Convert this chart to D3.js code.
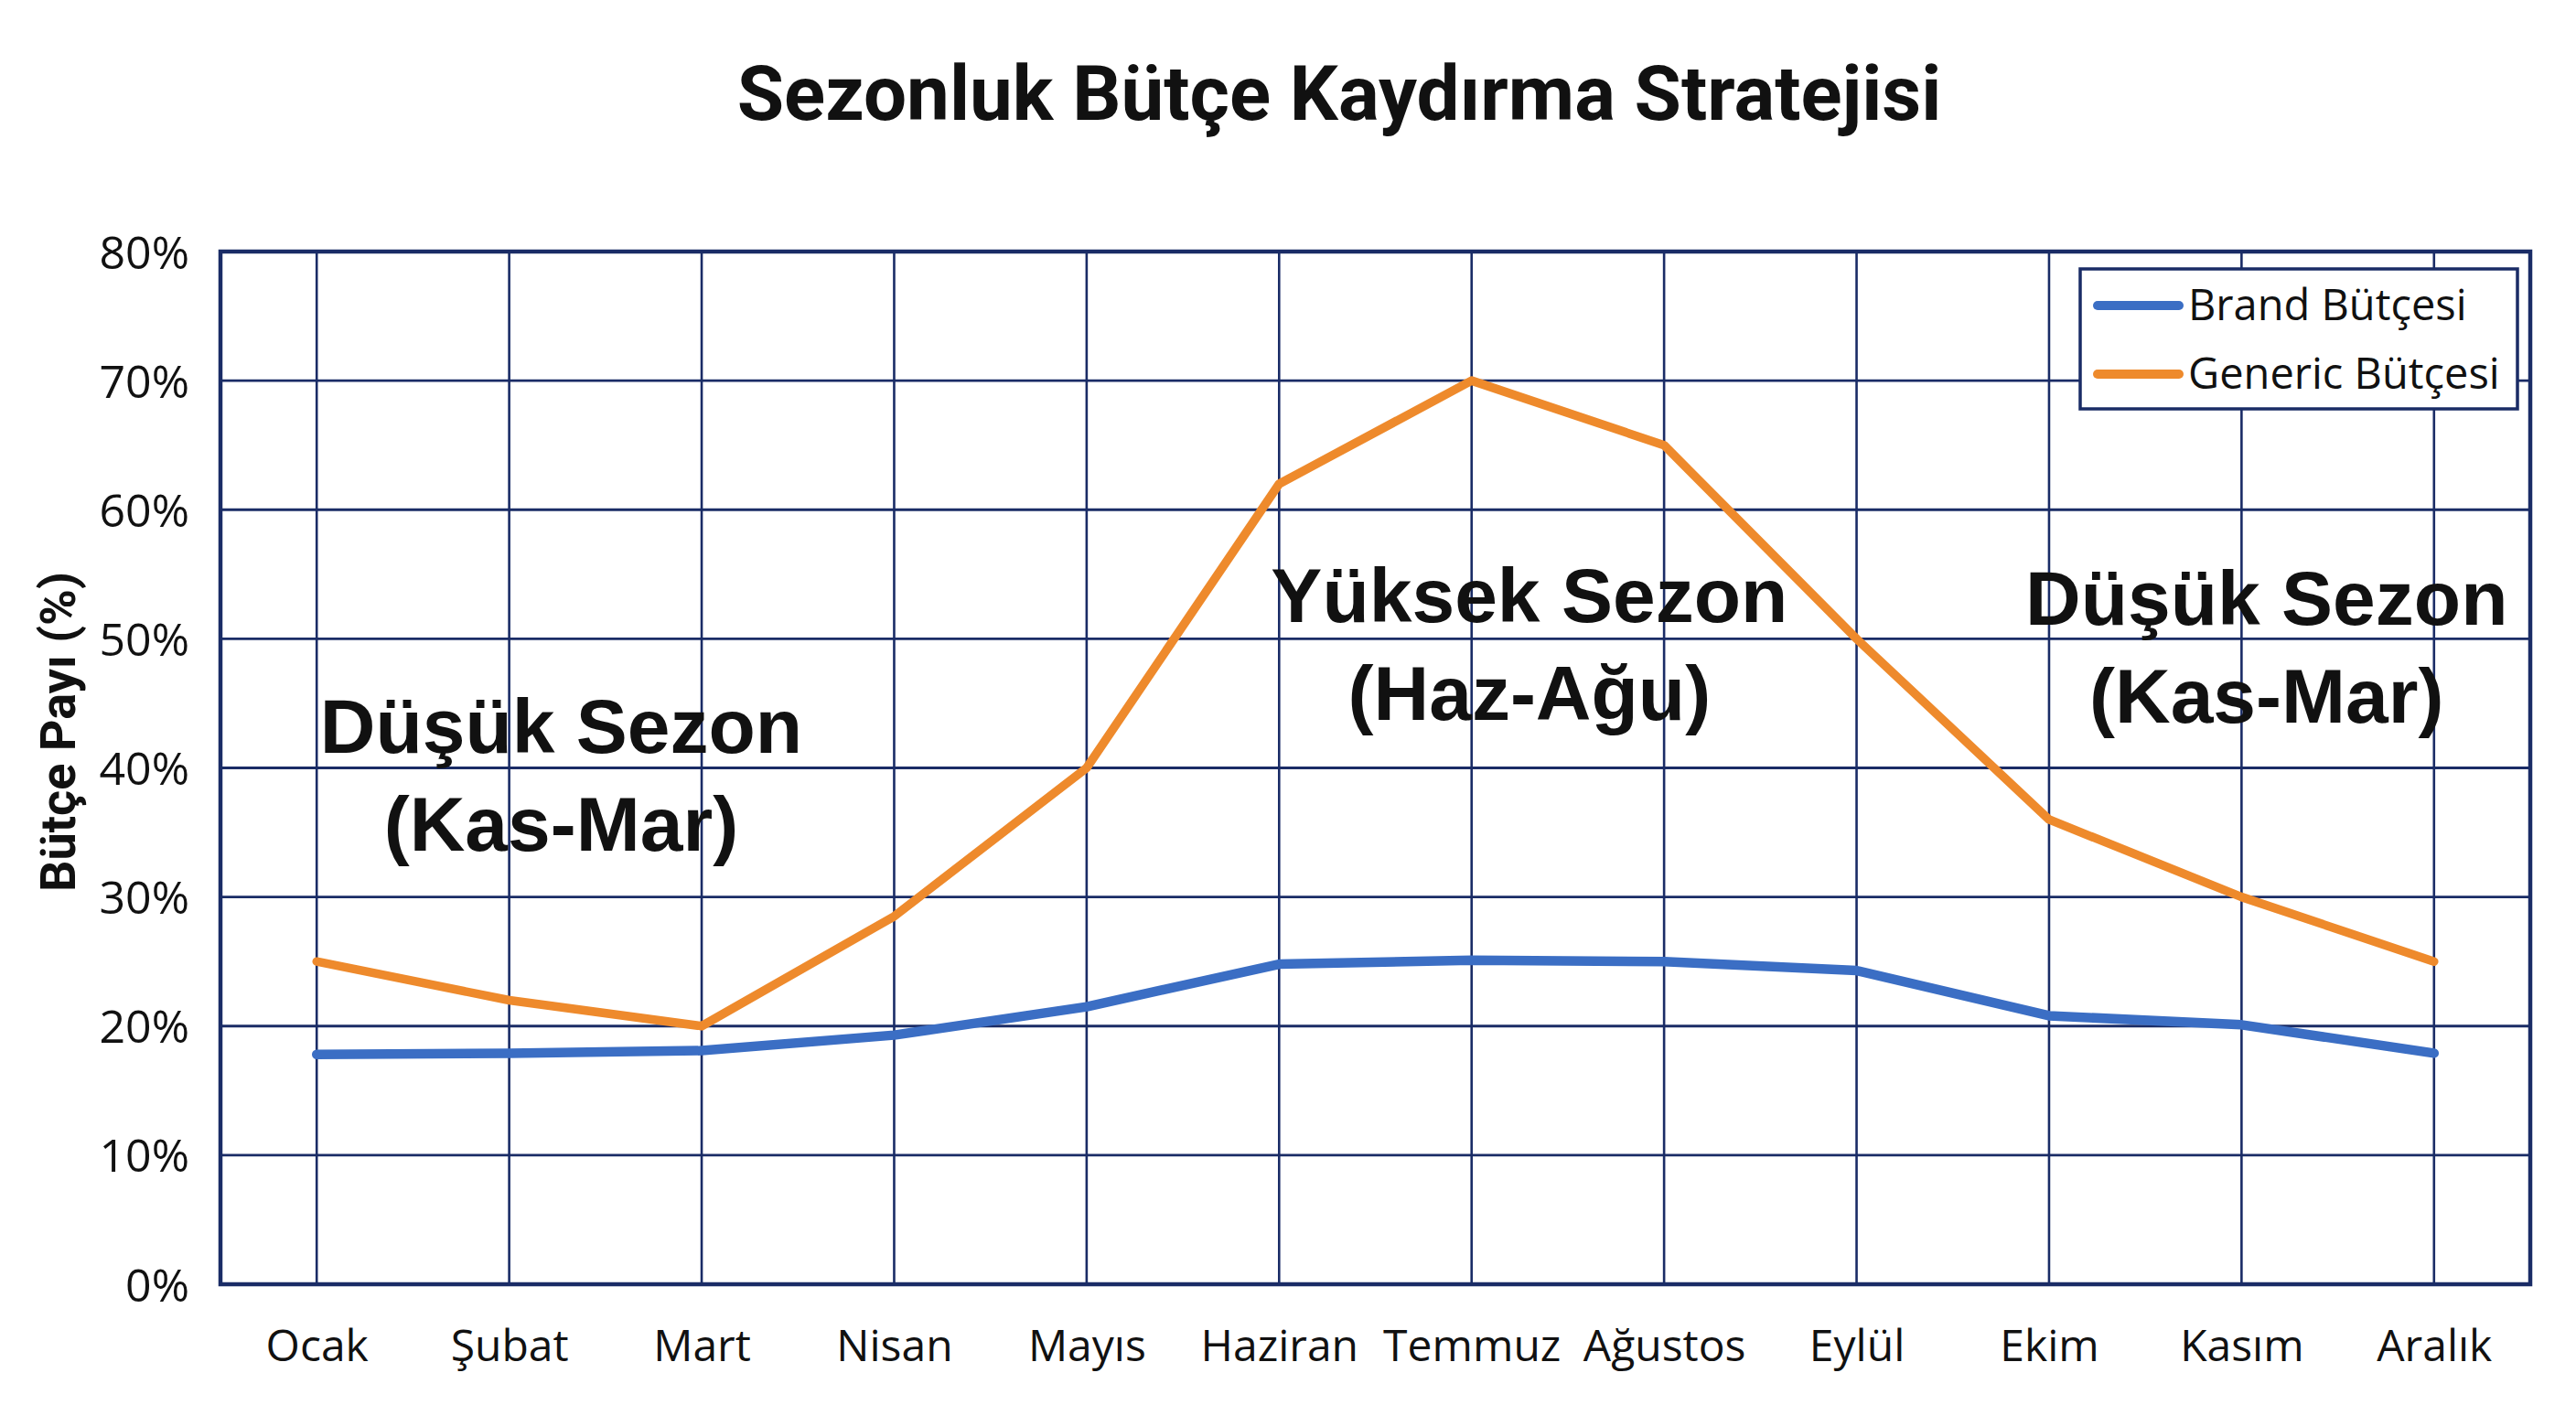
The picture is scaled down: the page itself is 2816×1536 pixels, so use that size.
<!DOCTYPE html>
<html>
<head>
<meta charset="utf-8">
<script src="https://cdn.jsdelivr.net/npm/d3@7"></script>
<style>
  html, body { margin: 0; padding: 0; background: #ffffff; }
  svg { display: block; }
</style>
</head>
<body>
<svg id="chart" width="2816" height="1536"></svg>
<script>
// ---- data ----
const months = ["Ocak","Şubat","Mart","Nisan","Mayıs","Haziran","Temmuz","Ağustos","Eylül","Ekim","Kasım","Aralık"];
const brandBudget   = [17.8, 17.9, 18.1, 19.3, 21.5, 24.8, 25.1, 25.0, 24.3, 20.8, 20.1, 17.9];
const genericBudget = [25, 22, 20, 28.5, 40, 62, 70, 65, 50, 36, 30, 25];
const yTickValues = [0, 10, 20, 30, 40, 50, 60, 70, 80];
const seriesNames = ["Brand Bütçesi", "Generic Bütçesi"];
const titleText = "Sezonluk Bütçe Kaydırma Stratejisi";
const yAxisTitle = "Bütçe Payı (%)";
// annotations anchored in data space: month index (fractional) and value
const annoText = [["Düşük Sezon","(Kas-Mar)"], ["Yüksek Sezon","(Haz-Ağu)"], ["Düşük Sezon","(Kas-Mar)"]];
const annoMonthPos = [1.27, 6.30, 10.13];
const annoValue = [41.2, 51.3, 51.1];

// ---- layout ----
const W = 2816, H = 1536;
const m = { left: 241, right: 50, top: 275, bottom: 132 };
const iw = W - m.left - m.right, ih = H - m.top - m.bottom;
const gridColor = "#1a2c66";
const colors = ["#3b6ec4", "#ee8a2c"];

const svg = d3.select("#chart");
svg.append("rect").attr("width", W).attr("height", H).attr("fill", "#ffffff");
const g = svg.append("g").attr("transform", `translate(${m.left},${m.top})`);

const x = d3.scalePoint().domain(months).range([0, iw]).padding(0.5);
const y = d3.scaleLinear().domain([0, 80]).range([ih, 0]);
const xIdx = i => x(months[0]) + i * x.step();

// gridlines
g.append("g").selectAll("line.h").data(yTickValues).join("line")
  .attr("x1", 0).attr("x2", iw)
  .attr("y1", d => y(d)).attr("y2", d => y(d))
  .attr("stroke", gridColor).attr("stroke-width", 2.8);
g.append("g").selectAll("line.v").data(months).join("line")
  .attr("x1", d => x(d)).attr("x2", d => x(d))
  .attr("y1", 0).attr("y2", ih)
  .attr("stroke", gridColor).attr("stroke-width", 2.6);
// border
g.append("rect").attr("x", 0).attr("y", 0).attr("width", iw).attr("height", ih)
  .attr("fill", "none").attr("stroke", gridColor).attr("stroke-width", 4.5);

// y axis
const yAxis = d3.axisLeft(y).tickValues(yTickValues).tickFormat(d => d + "%").tickSize(0).tickPadding(34);
const ya = g.append("g").call(yAxis);
ya.select(".domain").remove();
ya.selectAll("text").attr("font-family", "'Open Sans', sans-serif").attr("font-size", 50)
  .attr("font-weight", 500).attr("fill", "#111").attr("dy", "0.36em");

// x axis
const xAxis = d3.axisBottom(x).tickSize(0).tickPadding(50);
const xa = g.append("g").attr("transform", `translate(0,${ih})`).call(xAxis);
xa.select(".domain").remove();
xa.selectAll("text").attr("font-family", "'Open Sans', sans-serif").attr("font-size", 48)
  .attr("font-weight", 500).attr("fill", "#111");

// lines
const line = d3.line().x((d, i) => x(months[i])).y(d => y(d));
[brandBudget, genericBudget].forEach((s, k) => {
  g.append("path").datum(s).attr("d", line)
    .attr("fill", "none").attr("stroke", colors[k])
    .attr("stroke-width", k === 0 ? 10.5 : 9.5)
    .attr("stroke-linejoin", "round").attr("stroke-linecap", "round");
});

// annotations
annoText.forEach((lines, k) => {
  const t = g.append("text").attr("text-anchor", "middle")
    .attr("font-family", "'Liberation Sans', Arial, sans-serif").attr("font-weight", "bold")
    .attr("font-size", 84).attr("fill", "#111");
  lines.forEach((ln, j) => {
    t.append("tspan").attr("x", xIdx(annoMonthPos[k]))
      .attr("y", y(annoValue[k]) + j * 107).text(ln);
  });
});

// legend
const lg = svg.append("g").attr("transform", `translate(2274,294)`);
lg.append("rect").attr("width", 478).attr("height", 153).attr("fill", "#ffffff")
  .attr("stroke", gridColor).attr("stroke-width", 3.5);
seriesNames.forEach((n, k) => {
  const yy = 40 + k * 75;
  lg.append("line").attr("x1", 19).attr("x2", 108).attr("y1", yy).attr("y2", yy)
    .attr("stroke", colors[k]).attr("stroke-width", 10).attr("stroke-linecap", "round");
  lg.append("text").attr("x", 118).attr("y", yy + 16).text(n)
    .attr("font-family", "'Open Sans', sans-serif").attr("font-size", 47).attr("fill", "#111");
});

// title
svg.append("text").attr("x", 1464).attr("y", 131).attr("text-anchor", "middle")
  .attr("font-family", "Roboto, sans-serif").attr("font-weight", "bold")
  .attr("font-size", 83.5).attr("fill", "#111").text(titleText);

// y axis title
svg.append("text").attr("transform", `translate(82,800) rotate(-90)`)
  .attr("text-anchor", "middle")
  .attr("font-family", "Roboto, sans-serif").attr("font-weight", "bold")
  .attr("font-size", 54).attr("fill", "#111").text(yAxisTitle);
</script>
</body>
</html>
